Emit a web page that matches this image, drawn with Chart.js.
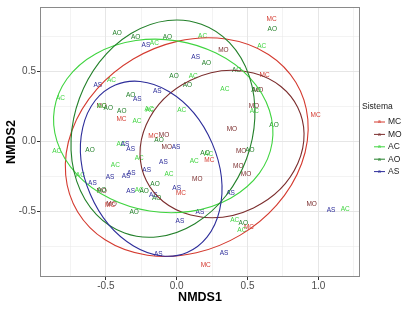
<!DOCTYPE html>
<html>
<head>
<meta charset="utf-8">
<script src="https://cdn.jsdelivr.net/npm/chart.js@4.4.1/dist/chart.umd.min.js"></script>
<style>
  html, body { margin: 0; padding: 0; background: #fff; }
</style>
</head>
<body>
<canvas id="nmdsChart" width="412" height="309"></canvas>
<script>
// groups (Sistema) and their colours
var grupos = ['MC', 'MO', 'AC', 'AO', 'AS'];
var colores = ['#D43A2F', '#7B2D2D', '#3FD43F', '#23802A', '#2D2D9A'];

// NMDS scores, one pair of arrays per group
var mcX = [0.67, 0.62, 0.98, -0.39, -0.165, 0.23, 0.03, -0.47, 0.51, 0.205];
var mcY = [0.87, 0.47, 0.19, 0.16, 0.04, -0.13, -0.37, -0.455, -0.61, -0.88];

var moX = [0.33, 0.575, 0.545, 0.39, 0.455, 0.435, 0.49, 0.145, 0.953, -0.09, -0.07, -0.53, -0.53, -0.46];
var moY = [0.65, 0.365, 0.25, 0.087, -0.07, -0.176, -0.23, -0.27, -0.447, 0.047, -0.04, 0.25, -0.355, -0.45];

var acX = [0.183, -0.158, 0.60, 0.117, -0.46, 0.34, -0.82, -0.53, -0.195, -0.188, 0.035, 0.548, -0.28, -0.393, -0.847, 0.225, -0.264, 0.124, -0.433, -0.054, -0.68, -0.264, 0.41, 0.46, 1.19];
var acY = [0.753, 0.70, 0.68, 0.464, 0.435, 0.37, 0.31, 0.25, 0.228, 0.225, 0.224, 0.219, 0.148, -0.016, -0.07, -0.09, -0.118, -0.141, -0.17, -0.235, -0.24, -0.346, -0.565, -0.63, -0.485];

var aoX = [-0.42, -0.29, -0.066, 0.675, 0.21, -0.019, 0.075, 0.423, 0.56, -0.325, -0.483, -0.388, -0.125, 0.687, -0.612, 0.20, 0.517, -0.153, -0.53, -0.23, -0.141, -0.30, 0.47];
var aoY = [0.77, 0.746, 0.746, 0.80, 0.557, 0.464, 0.40, 0.506, 0.365, 0.334, 0.235, 0.219, 0.007, 0.113, -0.064, -0.085, -0.06, -0.306, -0.35, -0.353, -0.404, -0.506, -0.584];

var asX = [-0.217, 0.134, -0.557, -0.137, -0.278, -0.005, -0.365, -0.325, -0.094, -0.212, -0.47, -0.32, -0.358, -0.595, -0.325, -0.165, 0.0, 0.023, -0.13, 0.38, 0.164, 0.334, 1.09];
var asY = [0.69, 0.60, 0.40, 0.36, 0.301, -0.04, -0.019, -0.052, -0.148, -0.205, -0.254, -0.224, -0.247, -0.30, -0.358, -0.38, -0.336, -0.57, -0.807, -0.37, -0.506, -0.80, -0.49];

// confidence ellipses per group: centre x, centre y, semi-axis a, semi-axis b, angle (deg)
var elipseCx = [0.071, 0.32, -0.095, -0.097, -0.18];
var elipseCy = [-0.040, -0.018, 0.111, 0.092, -0.194];
var elipseA = [0.898, 0.595, 0.778, 0.793, 0.649];
var elipseB = [0.733, 0.507, 0.615, 0.628, 0.467];
var elipseAng = [31, 26, -9, 70, 113];

// axes
var xMayor = [-0.5, 0, 0.5, 1.0];
var xMenor = [-0.75, -0.25, 0.25, 0.75, 1.25];
var yMayor = [-0.5, 0, 0.5];
var yMenor = [-0.75, -0.25, 0.25, 0.75];
var xLim = [-0.965, 1.294];
var yLim = [-0.967, 0.960];

var xs = [mcX, moX, acX, aoX, asX];
var ys = [mcY, moY, acY, aoY, asY];

function puntos(px, py) {
  return px.map(function (v, i) { return { x: v, y: py[i] }; });
}

function ticksDe(mayor, menor) {
  return mayor.concat(menor).sort(function (a, b) { return a - b; })
    .map(function (v) { return { value: v }; });
}

var datasets = grupos.map(function (g, i) {
  return {
    label: g,
    data: puntos(xs[i], ys[i]),
    pointRadius: 0,
    pointHoverRadius: 0,
    borderColor: colores[i],
    backgroundColor: colores[i]
  };
});

// draws the text labels, the ellipses, the panel border and the legend
var nmdsPlugin = {
  id: 'nmds',
  afterDatasetsDraw: function (chart) {
    var ctx = chart.ctx;
    var area = chart.chartArea;
    var sx = chart.scales.x, sy = chart.scales.y;

    ctx.save();
    ctx.beginPath();
    ctx.rect(area.left, area.top, area.right - area.left, area.bottom - area.top);
    ctx.clip();

    ctx.font = '6.5px "Liberation Sans", Arial, sans-serif';
    ctx.textAlign = 'center';
    ctx.textBaseline = 'middle';
    chart.data.datasets.forEach(function (ds, i) {
      var meta = chart.getDatasetMeta(i);
      ctx.fillStyle = colores[i];
      meta.data.forEach(function (el) {
        ctx.fillText(ds.label, el.x, el.y);
      });
    });

    var kx = sx.getPixelForValue(1) - sx.getPixelForValue(0);
    var ky = sy.getPixelForValue(0) - sy.getPixelForValue(1);
    for (var i = 0; i < grupos.length; i++) {
      ctx.save();
      ctx.translate(sx.getPixelForValue(elipseCx[i]), sy.getPixelForValue(elipseCy[i]));
      ctx.scale(kx, -ky);
      ctx.rotate(elipseAng[i] * Math.PI / 180);
      ctx.beginPath();
      ctx.ellipse(0, 0, elipseA[i], elipseB[i], 0, 0, Math.PI * 2);
      ctx.restore();
      ctx.strokeStyle = colores[i];
      ctx.lineWidth = 1.1;
      ctx.stroke();
    }
    ctx.restore();

    // panel border
    ctx.save();
    ctx.strokeStyle = '#8a8a8a';
    ctx.lineWidth = 1;
    ctx.strokeRect(area.left + 0.5, area.top + 0.5, area.right - area.left - 1, area.bottom - area.top - 1);
    ctx.restore();
  },
  afterDraw: function (chart) {
    var ctx = chart.ctx;
    var x0 = chart.chartArea.right + 2;
    ctx.save();
    ctx.fillStyle = '#1a1a1a';
    ctx.font = '8.5px "Liberation Sans", Arial, sans-serif';
    ctx.textAlign = 'left';
    ctx.textBaseline = 'middle';
    ctx.fillText('Sistema', x0, 107);
    grupos.forEach(function (g, i) {
      var yy = 122 + i * 12.4;
      ctx.strokeStyle = colores[i];
      ctx.lineWidth = 1;
      ctx.beginPath();
      ctx.moveTo(x0 + 12, yy);
      ctx.lineTo(x0 + 23, yy);
      ctx.stroke();
      ctx.fillStyle = colores[i];
      ctx.font = '5px "Liberation Sans", Arial, sans-serif';
      ctx.textAlign = 'center';
      ctx.fillText('a', x0 + 17.5, yy);
      ctx.fillStyle = '#1a1a1a';
      ctx.font = '8.5px "Liberation Sans", Arial, sans-serif';
      ctx.textAlign = 'left';
      ctx.fillText(g, x0 + 26, yy);
    });
    ctx.restore();
  }
};

function gridWidth(mayor) {
  return function (c) {
    return (c.tick && mayor.indexOf(c.tick.value) >= 0) ? 1 : 0.5;
  };
}

function tickColor(mayor) {
  return function (c) {
    return (c.tick && mayor.indexOf(c.tick.value) >= 0) ? '#333333' : 'rgba(0,0,0,0)';
  };
}

new Chart(document.getElementById('nmdsChart').getContext('2d'), {
  type: 'scatter',
  data: { datasets: datasets },
  plugins: [nmdsPlugin],
  options: {
    responsive: false,
    animation: false,
    devicePixelRatio: 1,
    events: [],
    layout: { padding: { top: 4, right: 52, left: 0, bottom: 0 } },
    plugins: {
      legend: { display: false },
      tooltip: { enabled: false }
    },
    scales: {
      x: {
        type: 'linear',
        min: xLim[0],
        max: xLim[1],
        afterBuildTicks: function (s) { s.ticks = ticksDe(xMayor, xMenor); },
        afterFit: function (s) { s.height = 32; },
        border: { display: false },
        grid: {
          color: '#E6E6E6',
          lineWidth: gridWidth(xMayor),
          tickColor: tickColor(xMayor),
          tickLength: 3,
          tickWidth: 1
        },
        ticks: {
          padding: 0,
          color: '#4D4D4D',
          font: { family: '"Liberation Sans", Arial, sans-serif', size: 10 },
          maxRotation: 0,
          autoSkip: false,
          callback: function (v) { return xMayor.indexOf(v) >= 0 ? v.toFixed(1) : ''; }
        },
        title: {
          display: true,
          text: 'NMDS1',
          color: '#000',
          padding: { top: 0, bottom: 4 },
          font: { family: '"Liberation Sans", Arial, sans-serif', size: 12.5, weight: 'bold' }
        }
      },
      y: {
        type: 'linear',
        min: yLim[0],
        max: yLim[1],
        afterBuildTicks: function (s) { s.ticks = ticksDe(yMayor, yMenor); },
        afterFit: function (s) { s.width = 40; },
        border: { display: false },
        grid: {
          color: '#E6E6E6',
          lineWidth: gridWidth(yMayor),
          tickColor: tickColor(yMayor),
          tickLength: 3,
          tickWidth: 1
        },
        ticks: {
          padding: 1,
          color: '#4D4D4D',
          font: { family: '"Liberation Sans", Arial, sans-serif', size: 10 },
          autoSkip: false,
          callback: function (v) { return yMayor.indexOf(v) >= 0 ? v.toFixed(1) : ''; }
        },
        title: {
          display: true,
          text: 'NMDS2',
          color: '#000',
          padding: { top: 4.5, bottom: 0 },
          font: { family: '"Liberation Sans", Arial, sans-serif', size: 12.5, weight: 'bold' }
        }
      }
    }
  }
});
</script>
</body>
</html>
